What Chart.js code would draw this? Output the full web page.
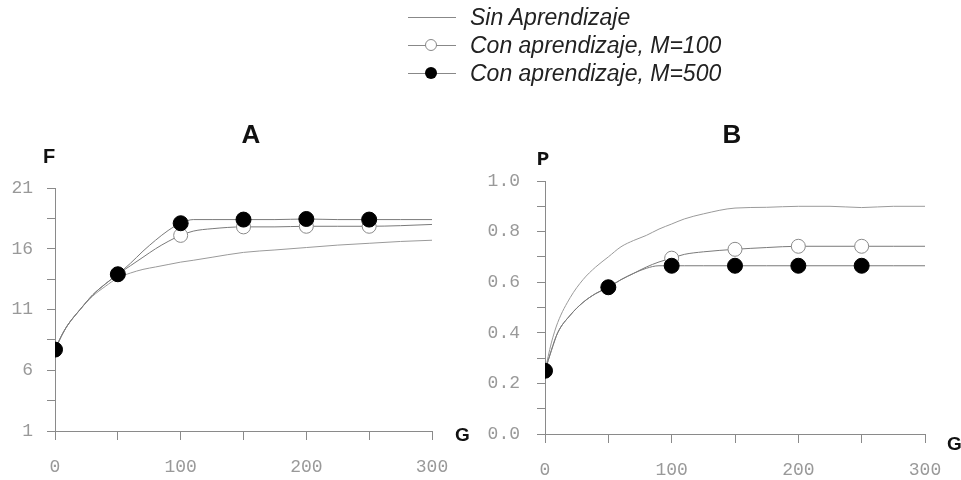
<!DOCTYPE html>
<html>
<head>
<meta charset="utf-8">
<script src="https://cdn.jsdelivr.net/npm/chart.js@4/dist/chart.umd.min.js"></script>
<style>
  body { margin: 0; background: #fff; }
  #page { position: relative; width: 961px; height: 480px; overflow: hidden; }
  canvas { position: absolute; top: 0; }
  #chartA { left: 0; }
  #chartB { left: 480px; }
  .legend { position: absolute; left: 408px; top: 3px; z-index: 2; font: italic 23px "Liberation Sans", Arial, sans-serif; color: #222; }
  .row { position: relative; height: 28px; line-height: 28px; padding-left: 62px; white-space: nowrap; }
  .row .ln { position: absolute; left: 0; top: 14px; width: 48px; border-top: 1px solid #888; }
  .row .mk { position: absolute; left: 17px; top: 8px; width: 12px; height: 12px; border-radius: 50%; box-sizing: border-box; }
  .mk.open { background: #fff; border: 1px solid #888; }
  .mk.fill { background: #000; }
</style>
</head>
<body>
<div id="page">
  <div class="legend">
    <div class="row"><span class="ln"></span>Sin Aprendizaje</div>
    <div class="row"><span class="ln"></span><span class="mk open"></span>Con aprendizaje, M=100</div>
    <div class="row"><span class="ln"></span><span class="mk fill"></span>Con aprendizaje, M=500</div>
  </div>
  <canvas id="chartA" width="480" height="480"></canvas>
  <canvas id="chartB" width="481" height="480"></canvas>
</div>
<script>
const gens = [0, 5, 10, 20, 30, 40, 50, 60, 70, 80, 90, 100, 110, 125, 150, 175, 200, 225, 250, 275, 300];
const markGens = [0, 50, 100, 150, 200, 250];

// panel A: F
const sinA  = [7.7, 8.8, 9.7, 11.0, 12.1, 12.9, 13.6, 14.0, 14.3, 14.5, 14.7, 14.9, 15.05, 15.3, 15.7, 15.9, 16.1, 16.3, 16.45, 16.6, 16.7];
const m100A = [7.7, 8.8, 9.7, 11.0, 12.2, 13.1, 13.9, 14.6, 15.3, 16.0, 16.6, 17.1, 17.45, 17.65, 17.8, 17.8, 17.85, 17.85, 17.85, 17.9, 18.0];
const m500A = [7.7, 8.8, 9.7, 11.0, 12.2, 13.1, 13.9, 14.8, 15.8, 16.7, 17.5, 18.1, 18.4, 18.4, 18.4, 18.4, 18.45, 18.4, 18.4, 18.4, 18.4];

// panel B: P
const sinB  = [0.25, 0.36, 0.44, 0.54, 0.61, 0.66, 0.70, 0.74, 0.765, 0.785, 0.81, 0.83, 0.85, 0.87, 0.893, 0.896, 0.90, 0.90, 0.895, 0.90, 0.90];
const m100B = [0.25, 0.33, 0.40, 0.47, 0.52, 0.555, 0.58, 0.61, 0.635, 0.66, 0.68, 0.695, 0.71, 0.72, 0.73, 0.737, 0.742, 0.742, 0.742, 0.742, 0.742];
const m500B = [0.25, 0.33, 0.40, 0.47, 0.52, 0.555, 0.58, 0.61, 0.635, 0.655, 0.665, 0.665, 0.665, 0.665, 0.665, 0.665, 0.665, 0.665, 0.665, 0.665, 0.665];

const axisGray = "#8a8a8a";
const tickFont = { family: "'Liberation Mono', 'Courier New', monospace", size: 18 };

function pts(vals) {
  return vals.map((v, i) => ({ x: gens[i], y: v }));
}

function series(vals, kind) {
  return {
    data: pts(vals),
    showLine: true,
    borderColor: kind === "sin" ? "#9a9a9a" : "#7a7a7a",
    borderWidth: 1,
    cubicInterpolationMode: "monotone",
    pointRadius: (c) => (kind !== "sin" && markGens.includes(c.raw.x) ? (kind === "fill" ? 7.5 : 7) : 0),
    pointBackgroundColor: kind === "fill" ? "#000" : "#fff",
    pointBorderColor: kind === "fill" ? "#000" : "#8a8a8a",
    pointBorderWidth: 1,
    order: kind === "fill" ? 0 : kind === "open" ? 1 : 2,
  };
}

// draws panel letter and axis names
const labelsPlugin = {
  id: "labels",
  afterDraw(chart, args, o) {
    const ctx = chart.ctx;
    const a = chart.chartArea;
    ctx.save();
    ctx.fillStyle = "#111";
    ctx.textAlign = "center";
    ctx.textBaseline = "middle";
    ctx.font = "bold 26px 'Liberation Sans', Arial, sans-serif";
    ctx.fillText(o.title, o.titleX, 136);
    ctx.font = o.yFont;
    ctx.fillText(o.yName, a.left + o.yNameDx, o.yNameY);
    ctx.font = "bold 19px 'Liberation Sans', Arial, sans-serif";
    ctx.textAlign = "left";
    ctx.fillText("G", a.right + o.gDx, o.gY);
    ctx.restore();
  },
};

function makeChart(canvas, cfg) {
  return new Chart(canvas, {
    type: "scatter",
    data: {
      datasets: [series(cfg.m500, "fill"), series(cfg.m100, "open"), series(cfg.sin, "sin")],
    },
    options: {
      responsive: false,
      animation: false,
      devicePixelRatio: 1,
      layout: { padding: { top: cfg.top, right: cfg.right, left: 0, bottom: 0 } },
      plugins: {
        legend: { display: false },
        tooltip: { enabled: false },
        labels: cfg.labels,
      },
      scales: {
        x: {
          type: "linear",
          min: 0,
          max: 300,
          afterFit: (s) => { s.height = cfg.xH; },
          grid: { drawOnChartArea: false, drawTicks: true, tickLength: 9, color: axisGray },
          border: { color: axisGray },
          ticks: {
            stepSize: 50,
            padding: 16,
            maxRotation: 0,
            autoSkip: false,
            color: "#999",
            font: tickFont,
            callback: (v) => (v % 100 === 0 ? String(v) : ""),
          },
        },
        y: {
          type: "linear",
          min: cfg.yMin,
          max: cfg.yMax,
          afterFit: (s) => { s.width = cfg.yW; },
          grid: { drawOnChartArea: false, drawTicks: true, tickLength: 8, color: axisGray },
          border: { color: axisGray },
          ticks: {
            stepSize: cfg.yStep,
            padding: cfg.yPad,
            autoSkip: false,
            color: "#999",
            font: tickFont,
            callback: cfg.yLabel,
          },
        },
      },
    },
    plugins: [labelsPlugin],
  });
}

makeChart(document.getElementById("chartA"), {
  sin: sinA, m100: m100A, m500: m500A,
  top: 188, right: 48, xH: 49, yW: 55, yPad: 14,
  yMin: 1, yMax: 21, yStep: 2.5,
  yLabel: (v) => ((v - 1) % 5 === 0 ? String(v) : ""),
  labels: {
    title: "A", titleX: 251,
    yName: "F", yNameDx: -6, yNameY: 157,
    yFont: "bold 20px 'Liberation Sans', Arial, sans-serif",
    gDx: 23, gY: 436,
  },
});

makeChart(document.getElementById("chartB"), {
  sin: sinB, m100: m100B, m500: m500B,
  top: 181, right: 36, xH: 46, yW: 65, yPad: 17,
  yMin: 0, yMax: 1, yStep: 0.1,
  yLabel: (v) => (Math.round(v * 10) % 2 === 0 ? v.toFixed(1) : ""),
  labels: {
    title: "B", titleX: 252,
    yName: "P", yNameDx: -2, yNameY: 160,
    yFont: "bold 21px 'Liberation Mono', 'Courier New', monospace",
    gDx: 22, gY: 445,
  },
});
</script>
</body>
</html>
